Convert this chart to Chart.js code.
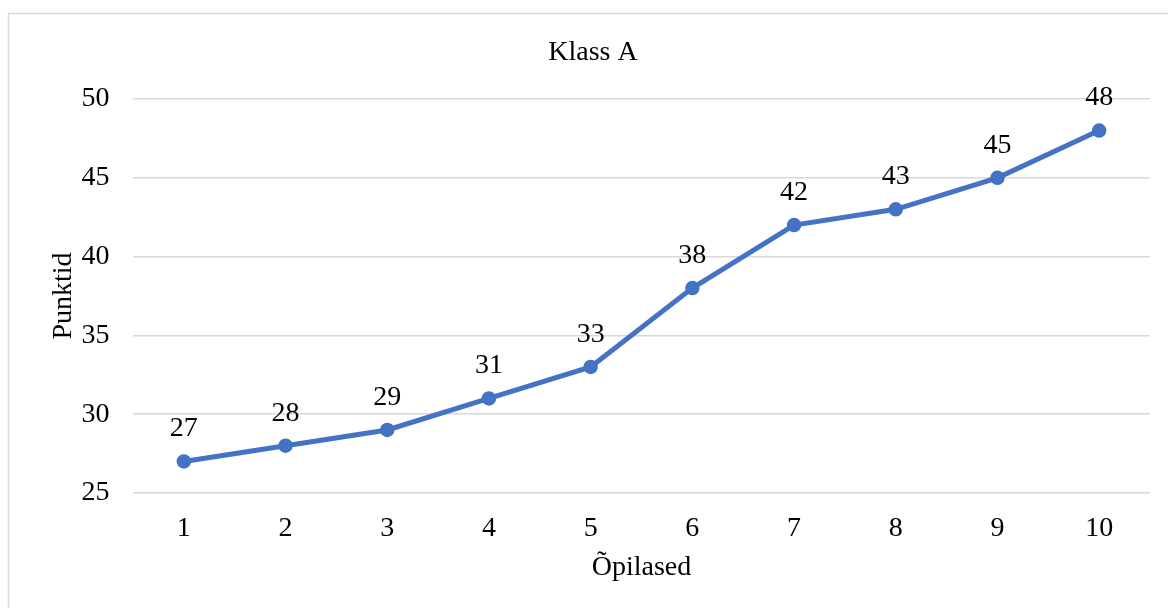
<!DOCTYPE html>
<html>
<head>
<meta charset="utf-8">
<title>Klass A</title>
<script src="https://cdn.jsdelivr.net/npm/chart.js@4/dist/chart.umd.min.js"></script>
<style>
  html, body { margin: 0; padding: 0; background: #fff; overflow: hidden; }
  canvas { display: block; }
</style>
</head>
<body>
<canvas id="chart" width="1168" height="608"></canvas>
<script>
// Student numbers and their scores
const students = ['1', '2', '3', '4', '5', '6', '7', '8', '9', '10'];
const points = [27, 28, 29, 31, 33, 38, 42, 43, 45, 48];
const yTicks = [25, 30, 35, 40, 45, 50];

const FONT = "'Liberation Serif', 'Times New Roman', serif";
const SIZE = 28;
const TEXT = '#000000';
const BLUE = '#4472C4';

// Thin frame around the chart
const framePlugin = {
  id: 'frame',
  beforeDraw(chart) {
    const ctx = chart.ctx;
    ctx.save();
    ctx.strokeStyle = '#d9d9d9';
    ctx.lineWidth = 1.5;
    ctx.strokeRect(8.5, 13.5, 1400, 800);
    ctx.restore();
  }
};

// Value labels above each point
const valueLabels = {
  id: 'valueLabels',
  afterDatasetsDraw(chart) {
    const ctx = chart.ctx;
    const meta = chart.getDatasetMeta(0);
    ctx.save();
    ctx.font = SIZE + 'px ' + FONT;
    ctx.fillStyle = TEXT;
    ctx.textAlign = 'center';
    ctx.textBaseline = 'middle';
    meta.data.forEach((pt, i) => {
      ctx.fillText(String(chart.data.datasets[0].data[i]), pt.x, pt.y - 32.5);
    });
    ctx.restore();
  }
};

new Chart(document.getElementById('chart'), {
  type: 'line',
  data: {
    labels: students,
    datasets: [{
      label: 'Punktid',
      data: points,
      borderColor: BLUE,
      backgroundColor: BLUE,
      borderWidth: 5,
      pointRadius: 6.5,
      pointBorderWidth: 1.5,
      pointBackgroundColor: BLUE,
      pointBorderColor: BLUE,
      tension: 0,
      fill: false
    }]
  },
  options: {
    responsive: false,
    animation: false,
    layout: { padding: { top: 0, right: 18, bottom: 0, left: 36 } },
    plugins: {
      legend: { display: false },
      tooltip: { enabled: false },
      title: {
        display: true,
        text: 'Klass A',
        color: TEXT,
        font: { family: FONT, size: SIZE, weight: 'normal' },
        padding: { top: 36, bottom: 29.4 }
      }
    },
    scales: {
      x: {
        offset: true,
        grid: { display: false, drawTicks: false },
        border: { display: false },
        ticks: { color: TEXT, font: { family: FONT, size: SIZE }, padding: 18.5, maxRotation: 0 },
        title: {
          display: true,
          text: 'Õpilased',
          color: TEXT,
          font: { family: FONT, size: SIZE },
          padding: { top: 0, bottom: 24 }
        },
        afterFit(scale) { scale.height = 115; }
      },
      y: {
        min: 25,
        max: 50,
        afterBuildTicks(scale) { scale.ticks = yTicks.map(v => ({ value: v })); },
        grid: { color: '#d9d9d9', lineWidth: 1.5, drawTicks: false },
        border: { display: false },
        ticks: { color: TEXT, font: { family: FONT, size: SIZE }, padding: 23.5 },
        title: {
          display: true,
          text: 'Punktid',
          color: TEXT,
          font: { family: FONT, size: SIZE },
          padding: { top: 11, bottom: 0 }
        },
        afterFit(scale) { scale.width = 97; }
      }
    }
  },
  plugins: [framePlugin, valueLabels]
});
</script>
</body>
</html>
